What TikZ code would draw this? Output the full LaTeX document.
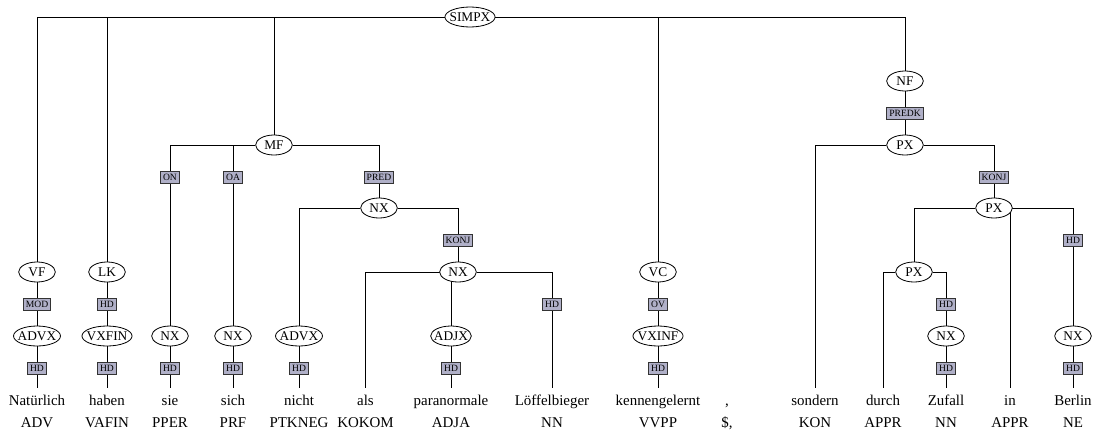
\documentclass[tikz,border=0pt]{standalone}
\usepackage{fontspec}
\setmainfont{Liberation Serif}
\usetikzlibrary{shapes.geometric,backgrounds}
\definecolor{boxfill}{HTML}{B0B0C8}
\definecolor{boxdraw}{HTML}{333333}
\tikzset{
 cat/.style={ellipse, draw=black, line width=0.6pt, fill=white, font=\fontsize{10}{12}\selectfont, inner xsep=-2pt, inner ysep=0pt, minimum width=27.5pt, minimum height=15pt},
 fn/.style={rectangle, draw=boxdraw, line width=0.7pt, fill=boxfill, font=\fontsize{7.2}{8}\selectfont, inner xsep=2pt, inner ysep=0pt, minimum height=9pt, text height=5.2pt, text depth=0.3pt},
 word/.style={font=\fontsize{11.2}{13}\selectfont, inner xsep=0pt, inner ysep=5pt, text height=8pt, text depth=2.5pt},
 tag/.style={font=\fontsize{11.2}{13}\selectfont, inner sep=0pt},
 edge/.style={line width=1pt, draw=black!85},
}
\begin{document}
\begin{tikzpicture}[x=0.75pt,y=-0.75pt]
\useasboundingbox (0,0) rectangle (1093,432);
% phrase nodes
\node[cat] (simpx) at (470,17) {SIMPX};
\node[cat] (vf) at (37,272) {VF};
\node[cat] (lk) at (107,272) {LK};
\node[cat] (mf) at (274,145) {MF};
\node[cat] (vc) at (658,272) {VC};
\node[cat] (nf) at (905,81) {NF};
\node[fn] (mod) at (37,304) {MOD};
\node[cat] (advxa) at (37,336) {ADVX};
\node[fn] (hda) at (37,368) {HD};
\node[fn] (lkhd) at (107,304) {HD};
\node[cat] (vxfin) at (107,336) {VXFIN};
\node[fn] (hdb) at (107,368) {HD};
\node[fn] (on) at (170,177) {ON};
\node[cat] (nxa) at (170,336) {NX};
\node[fn] (hdc) at (170,368) {HD};
\node[fn] (oa) at (233,177) {OA};
\node[cat] (nxb) at (233,336) {NX};
\node[fn] (hdd) at (233,368) {HD};
\node[fn] (pred) at (379,177) {PRED};
\node[cat] (nxp) at (379,208) {NX};
\node[cat] (advxb) at (299,336) {ADVX};
\node[fn] (hde) at (299,368) {HD};
\node[fn] (konja) at (458,240) {KONJ};
\node[cat] (nxk) at (458,272) {NX};
\node[cat] (adjx) at (451,336) {ADJX};
\node[fn] (hdf) at (451,368) {HD};
\node[fn] (hdl) at (552,304) {HD};
\node[fn] (ov) at (658,304) {OV};
\node[cat] (vxinf) at (658,336) {VXINF};
\node[fn] (hdg) at (658,368) {HD};
\node[fn] (predk) at (905,113) {PREDK};
\node[cat] (pxa) at (905,145) {PX};
\node[fn] (konjb) at (994,177) {KONJ};
\node[cat] (pxb) at (994,208) {PX};
\node[cat] (pxc) at (914,272) {PX};
\node[fn] (hdza) at (946,304) {HD};
\node[cat] (nxz) at (946,336) {NX};
\node[fn] (hdzb) at (946,368) {HD};
\node[fn] (hdba) at (1073,240) {HD};
\node[cat] (nxbe) at (1073,336) {NX};
\node[fn] (hdbb) at (1073,368) {HD};
% words
\node[word] (w1) at (37,402) {Natürlich};
\node[word] (w2) at (107,402) {haben};
\node[word] (w3) at (170,402) {sie};
\node[word] (w4) at (233,402) {sich};
\node[word] (w5) at (299,402) {nicht};
\node[word] (w6) at (365.5,402) {als};
\node[word] (w7) at (451,402) {paranormale};
\node[word] (w8) at (552,402) {Löffelbieger};
\node[word] (w9) at (658,402) {kennengelernt};
\node[word] (w10) at (727,402) {,};
\node[word] (w11) at (815,402) {sondern};
\node[word] (w12) at (883,402) {durch};
\node[word] (w13) at (946,402) {Zufall};
\node[word] (w14) at (1010,402) {in};
\node[word] (w15) at (1073,402) {Berlin};
% tags
\node[tag] (t1) at (37,423) {ADV};
\node[tag] (t2) at (107,423) {VAFIN};
\node[tag] (t3) at (170,423) {PPER};
\node[tag] (t4) at (233,423) {PRF};
\node[tag] (t5) at (299,423) {PTKNEG};
\node[tag] (t6) at (365.5,423) {KOKOM};
\node[tag] (t7) at (451,423) {ADJA};
\node[tag] (t8) at (552,423) {NN};
\node[tag] (t9) at (658,423) {VVPP};
\node[tag] (t10) at (727,423) {\$,};
\node[tag] (t11) at (815,423) {KON};
\node[tag] (t12) at (883,423) {APPR};
\node[tag] (t13) at (946,423) {NN};
\node[tag] (t14) at (1010,423) {APPR};
\node[tag] (t15) at (1073,423) {NE};
% edges
\begin{scope}[on background layer, edge]
\draw (simpx) -| (vf);
\draw (simpx) -| (lk);
\draw (simpx) -| (mf);
\draw (simpx) -| (vc);
\draw (simpx) -| (nf);
\draw (vf) -- (mod) -- (advxa) -- (hda) -- (w1.north);
\draw (lk) -- (lkhd) -- (vxfin) -- (hdb) -- (w2.north);
\draw (mf) -| (on);
\draw (mf) -| (oa);
\draw (mf) -| (pred);
\draw (on) -- (nxa) -- (hdc) -- (w3.north);
\draw (oa) -- (nxb) -- (hdd) -- (w4.north);
\draw (pred) -- (nxp);
\draw (nxp) -| (advxb);
\draw (nxp) -| (konja);
\draw (advxb) -- (hde) -- (w5.north);
\draw (konja) -- (nxk);
\draw (nxk) -| (w6.north);
\draw (nxk) -| (adjx);
\draw (nxk) -| (hdl);
\draw (adjx) -- (hdf) -- (w7.north);
\draw (hdl) -- (w8.north);
\draw (vc) -- (ov) -- (vxinf) -- (hdg) -- (w9.north);
\draw (nf) -- (predk) -- (pxa);
\draw (pxa) -| (w11.north);
\draw (pxa) -| (konjb);
\draw (konjb) -- (pxb);
\draw (pxb) -| (pxc);
\draw (pxb) -| (w14.north);
\draw (pxb) -| (hdba);
\draw (pxc) -| (w12.north);
\draw (pxc) -| (hdza);
\draw (hdza) -- (nxz) -- (hdzb) -- (w13.north);
\draw (hdba) -- (nxbe) -- (hdbb) -- (w15.north);
\end{scope}
\end{tikzpicture}
\end{document}
